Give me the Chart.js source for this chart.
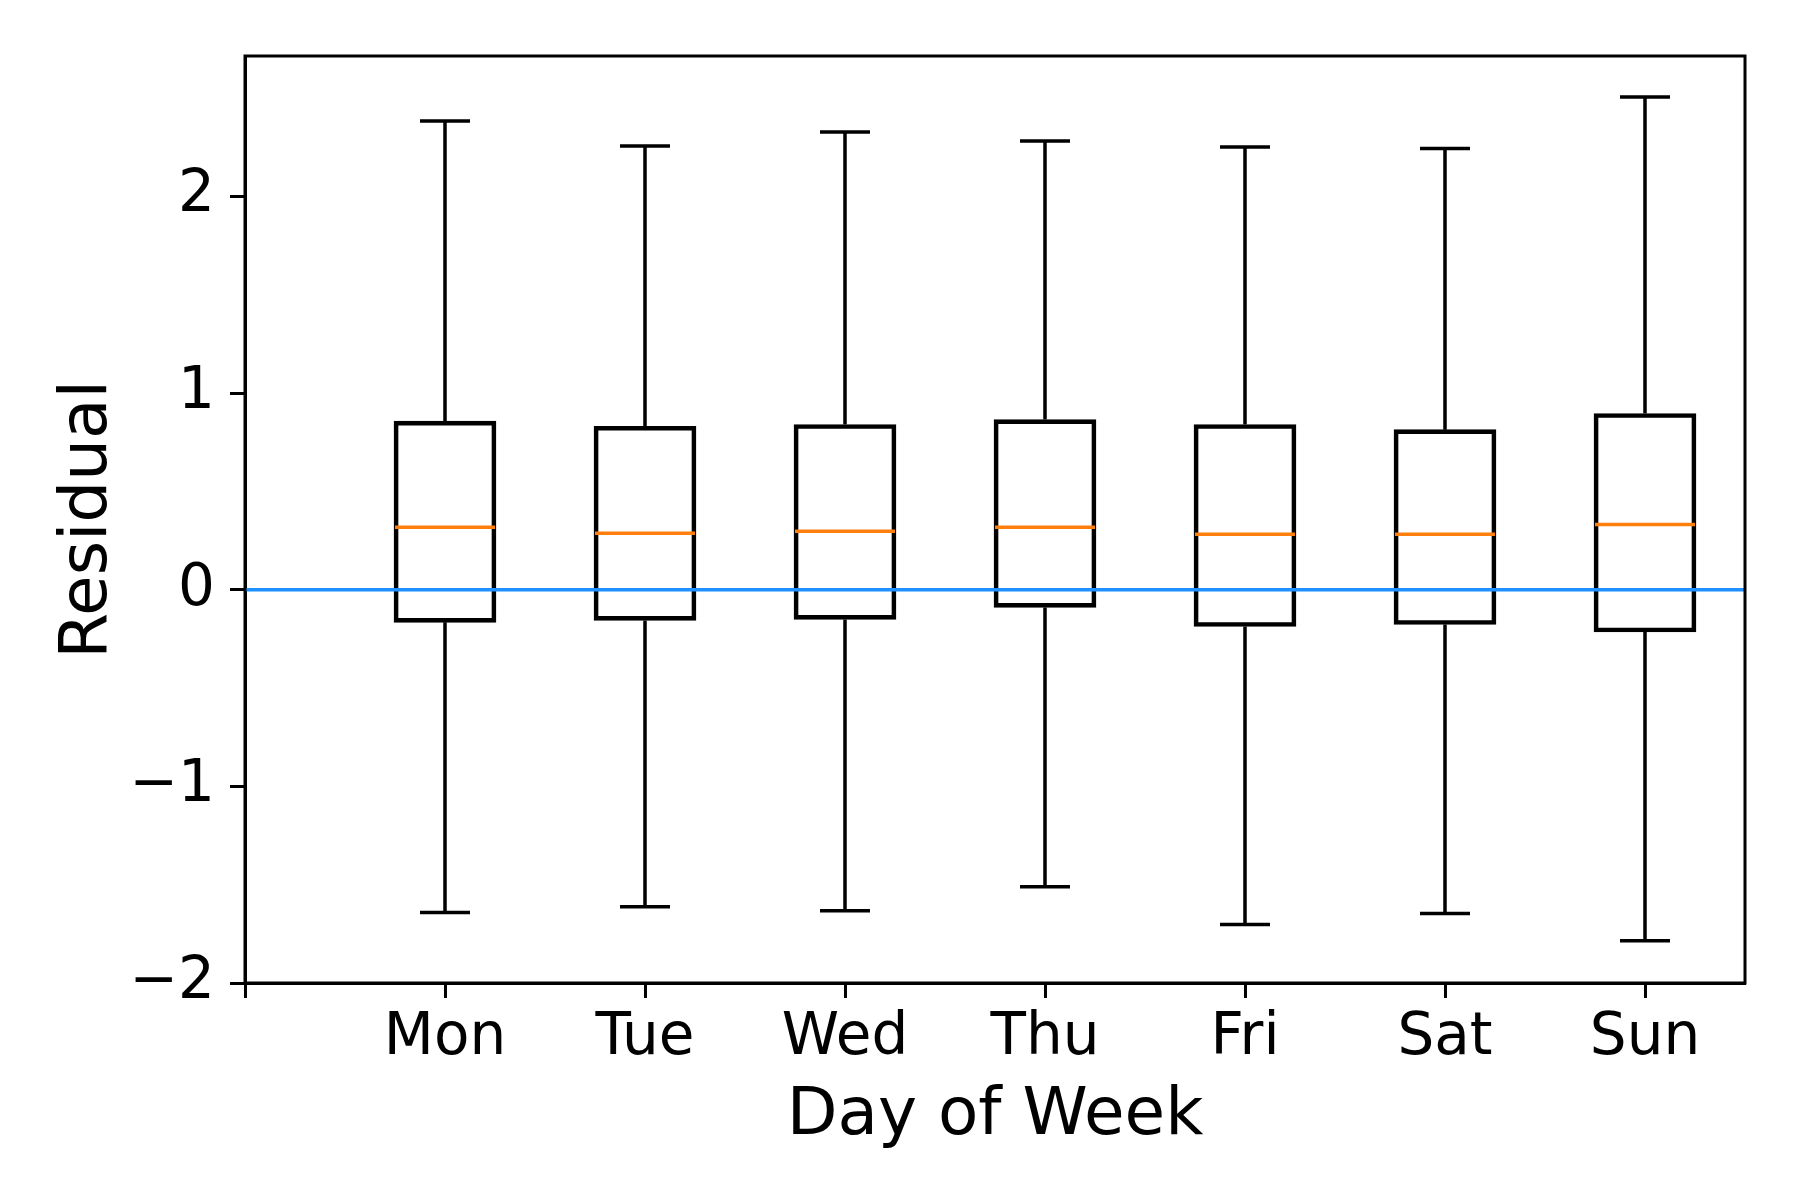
<!DOCTYPE html>
<html>
<head>
<meta charset="utf-8">
<title>Residual by Day of Week</title>
<script src="https://cdn.jsdelivr.net/npm/chart.js@4.4.1/dist/chart.umd.min.js"></script>
<style>
  html, body { margin: 0; padding: 0; background: #fff; }
  #chart { display: block; }
</style>
</head>
<body>
<canvas id="chart" width="1800" height="1200"></canvas>
<script>
// values
const days = ['Mon', 'Tue', 'Wed', 'Thu', 'Fri', 'Sat', 'Sun'];
const positions = [1, 2, 3, 4, 5, 6, 7];
const xTickValues = [0, 1, 2, 3, 4, 5, 6, 7];
const xTickLabels = ['', 'Mon', 'Tue', 'Wed', 'Thu', 'Fri', 'Sat', 'Sun'];
const whiskerHigh = [2.383, 2.256, 2.327, 2.282, 2.251, 2.244, 2.505];
const upperQuartile = [0.857, 0.831, 0.840, 0.865, 0.840, 0.814, 0.896];
const medians = [0.317, 0.287, 0.297, 0.317, 0.282, 0.282, 0.332];
const lowerQuartile = [-0.166, -0.156, -0.151, -0.090, -0.187, -0.177, -0.215];
const whiskerLow = [-1.642, -1.612, -1.632, -1.510, -1.703, -1.647, -1.785];
const yTicks = [-2, -1, 0, 1, 2];
const referenceLevel = 0;

const BOX_HALF = 0.25;   // box is 0.5 wide in x units
const CAP_HALF = 0.125;  // caps are half the box width

// build segment lists (null breaks the line between segments)
const whiskerPts = [];
const capPts = [];
const medianPts = [];
positions.forEach((p, i) => {
  whiskerPts.push({x: p, y: upperQuartile[i]}, {x: p, y: whiskerHigh[i]}, {x: p, y: null});
  whiskerPts.push({x: p, y: lowerQuartile[i]}, {x: p, y: whiskerLow[i]}, {x: p, y: null});
  capPts.push({x: p - CAP_HALF, y: whiskerHigh[i]}, {x: p + CAP_HALF, y: whiskerHigh[i]}, {x: p, y: null});
  capPts.push({x: p - CAP_HALF, y: whiskerLow[i]}, {x: p + CAP_HALF, y: whiskerLow[i]}, {x: p, y: null});
  medianPts.push({x: p - BOX_HALF, y: medians[i]}, {x: p + BOX_HALF, y: medians[i]}, {x: p, y: null});
});

const lineBase = {
  type: 'line',
  pointRadius: 0,
  pointHoverRadius: 0,
  fill: false,
  spanGaps: false,
  tension: 0
};

// top + right spines like matplotlib
const frame = {
  id: 'frame',
  afterDraw(chart) {
    const {ctx, chartArea: a} = chart;
    ctx.save();
    ctx.strokeStyle = '#000';
    ctx.lineWidth = 3;
    ctx.strokeRect(a.left, a.top, a.right - a.left, a.bottom - a.top);
    ctx.restore();
  }
};

const ctx = document.getElementById('chart').getContext('2d');
new Chart(ctx, {
  type: 'bar',
  data: {
    datasets: [
      {
        type: 'bar',
        label: 'IQR',
        data: positions.map((p, i) => ({x: p, y: [lowerQuartile[i], upperQuartile[i]]})),
        backgroundColor: 'rgba(0,0,0,0)',
        borderColor: '#000',
        borderWidth: 4,
        borderSkipped: false,
        barThickness: 102,
        order: 3
      },
      Object.assign({}, lineBase, {
        label: 'whiskers', data: whiskerPts, borderColor: '#000', borderWidth: 3.5, order: 3
      }),
      Object.assign({}, lineBase, {
        label: 'caps', data: capPts, borderColor: '#000', borderWidth: 3.5, order: 3
      }),
      Object.assign({}, lineBase, {
        label: 'median', data: medianPts, borderColor: '#ff7f0e', borderWidth: 3.5, order: 1
      }),
      Object.assign({}, lineBase, {
        label: 'zero', data: [{x: 0, y: referenceLevel}, {x: 7.5, y: referenceLevel}],
        borderColor: '#1e90ff', borderWidth: 3.5, order: 0
      })
    ]
  },
  options: {
    responsive: false,
    devicePixelRatio: 1,
    animation: false,
    layout: { padding: { left: 49, right: 55, top: 56, bottom: 44 } },
    plugins: {
      legend: { display: false },
      tooltip: { enabled: false }
    },
    scales: {
      x: {
        type: 'linear',
        position: 'bottom',
        offset: false,
        min: 0,
        max: 7.5,
        afterFit(scale) { scale.height = 173; },
        afterBuildTicks(scale) { scale.ticks = xTickValues.map(v => ({value: v})); },
        grid: {
          offset: false,
          drawOnChartArea: false,
          drawTicks: true,
          tickLength: 15,
          tickWidth: 3,
          tickColor: '#000'
        },
        border: { display: true, color: '#000', width: 3 },
        ticks: {
          autoSkip: false,
          maxRotation: 0,
          padding: 6,
          color: '#000',
          font: { family: 'DejaVu Sans', size: 58 },
          callback: v => xTickLabels[v] !== undefined ? xTickLabels[v] : ''
        },
        title: {
          display: true,
          text: 'Day of Week',
          color: '#000',
          padding: 0,
          font: { family: 'DejaVu Sans', size: 66 }
        }
      },
      y: {
        type: 'linear',
        min: -2,
        max: 2.714,
        afterFit(scale) { scale.width = 196; },
        afterBuildTicks(scale) { scale.ticks = yTicks.map(v => ({value: v})); },
        grid: {
          drawOnChartArea: false,
          drawTicks: true,
          tickLength: 15,
          tickWidth: 3,
          tickColor: '#000'
        },
        border: { display: true, color: '#000', width: 3 },
        ticks: {
          padding: 15,
          color: '#000',
          font: { family: 'DejaVu Sans', size: 58 },
          callback: v => v < 0 ? '\u2212' + Math.abs(v) : String(v)
        },
        title: {
          display: true,
          text: 'Residual',
          color: '#000',
          padding: 0,
          font: { family: 'DejaVu Sans', size: 66 }
        }
      }
    }
  },
  plugins: [frame]
});
</script>
</body>
</html>
